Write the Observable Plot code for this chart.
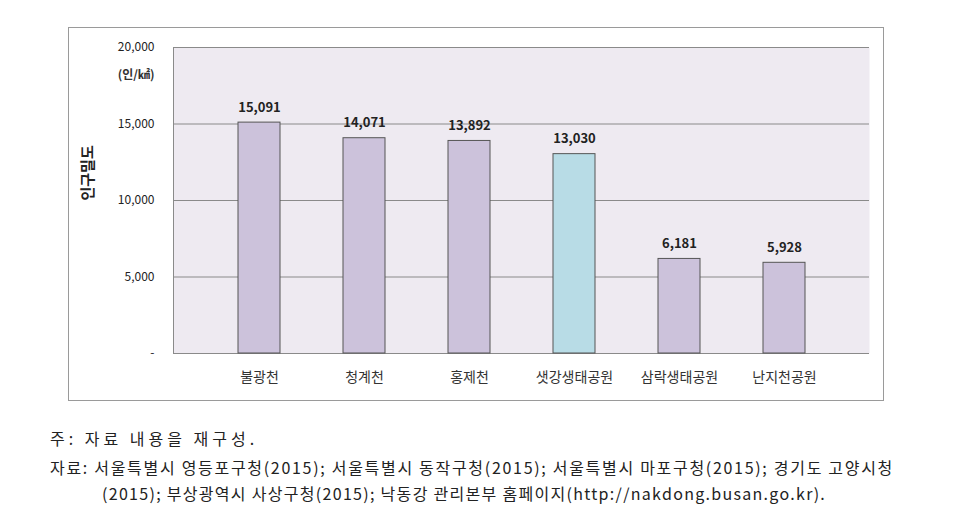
<!DOCTYPE html>
<html><head><meta charset="utf-8">
<script src="https://cdn.jsdelivr.net/npm/d3@7"></script>
<script src="https://cdn.jsdelivr.net/npm/@observablehq/plot@0.6"></script>
<style>
body{margin:0;background:#fff;font-family:"Noto Sans CJK KR",sans-serif;}
#wrap{position:relative;width:958px;height:520px;}
#box{position:absolute;left:68px;top:27px;width:814px;height:372px;border:1.5px solid #9a9a9a;}
#leftedge{position:absolute;left:173px;top:47px;width:0;height:306px;border-left:1px solid #8a8a8a;z-index:2;}
#chart{position:absolute;left:0;top:0;}
.cap{position:absolute;font-size:16px;color:#222;white-space:nowrap;}
</style></head>
<body><div id="wrap"><div id="box"></div><div id="chart"></div><div id="leftedge"></div>
<div class="cap" style="left:50px;top:426px;letter-spacing:4px;">주: 자료 내용을 재구성.</div>
<div class="cap" style="left:50px;top:455px;letter-spacing:1.7px;">자료: 서울특별시 영등포구청(2015); 서울특별시 동작구청(2015); 서울특별시 마포구청(2015); 경기도 고양시청</div>
<div class="cap" style="left:102px;top:481px;letter-spacing:1.3px;">(2015); 부상광역시 사상구청(2015); 낙동강 관리본부 홈페이지(http://nakdong.busan.go.kr).</div>
</div>
<script>
const parks = ["불광천","청계천","홍제천","샛강생태공원","삼락생태공원","난지천공원"];
const density = [15091,14071,13892,13030,6181,5928];
const yTicks = [0,5000,10000,15000,20000];
const highlight = "샛강생태공원";

const data = parks.map((p,i)=>({park:p, value:density[i]}));
const fmt = d3.format(",");
const chart = Plot.plot({
  width: 958, height: 410,
  marginLeft: 173, marginRight: 89, marginTop: 47, marginBottom: 57,
  style:{fontFamily:"'Noto Sans CJK KR',sans-serif", background:"transparent"},
  x:{domain: parks, padding: 0.6, label: null},
  y:{domain:[0,20000], ticks: yTicks, label: null},
  marks:[
    Plot.frame({fill:"#eeeaf1", stroke:null}),
    Plot.ruleY(yTicks.slice(1), {stroke:"#8a8a8a", strokeWidth:1}),
    Plot.ruleY([0], {stroke:"#8a8a8a", strokeWidth:1}),
    Plot.barY(data, {x:"park", y:"value", fill: d => d.park === highlight ? "#b8dce6" : "#ccc2db", stroke:"#555", strokeWidth:1}),
    Plot.text(data, {x:"park", y:"value", text: d => fmt(d.value), dy:-15, fontSize:13, fontWeight:"bold", fill:"#222"}),
    Plot.axisY({ticks: yTicks, tickSize:0, tickPadding:19, fontSize:12, tickFormat: d => d === 0 ? "-" : fmt(d), fill:"#222", label:null}),
    Plot.axisX({tickSize:0, tickPadding:19, fontSize:14, fill:"#333", label:null}),
    Plot.text(["(인/㎢)"], {frameAnchor:"top-left", dx:-19, dy:23, textAnchor:"end", fontSize:12, fontWeight:"bold", fill:"#333"}),
    Plot.text(["인구밀도"], {frameAnchor:"left", dx:-85, rotate:-90, fontSize:15, fontWeight:"bold", fill:"#222"})
  ]
});
document.getElementById("chart").appendChild(chart);
</script></body></html>
